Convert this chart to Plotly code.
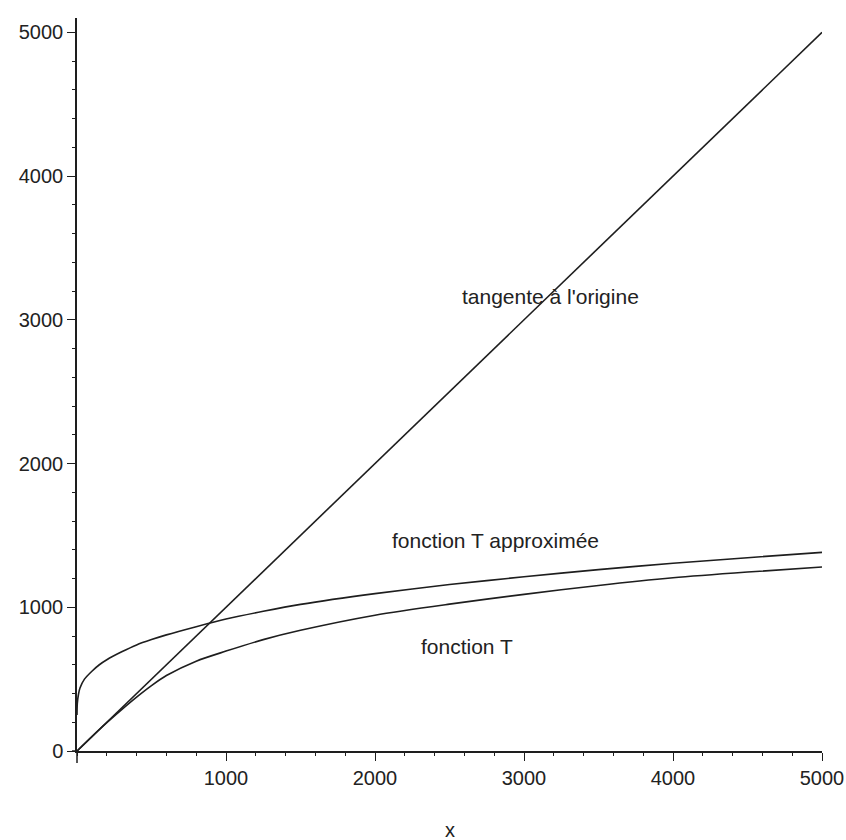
import plotly.graph_objects as go

# --- data ---
x_T = [0, 100, 200, 300, 400, 500, 600, 800, 1000, 1250, 1500, 2000, 2500, 3000, 3500, 4000, 4500, 5000]
y_T = [0, 100, 197, 288, 375, 455, 525, 625, 695, 775, 840, 945, 1022, 1090, 1152, 1205, 1245, 1280]

x_Tapprox = [0, 2, 10, 20, 50, 100, 150, 200, 300, 400, 500, 600, 800, 1000, 1250, 1500, 2000, 2500, 3000, 3500, 4000, 4500, 5000]
y_Tapprox = [250, 330, 395, 438, 500, 555, 600, 635, 690, 738, 775, 808, 865, 918, 972, 1020, 1095, 1158, 1212, 1262, 1306, 1345, 1382]

x_tangent = [0, 5000]
y_tangent = [0, 5000]

x_ticks = [1000, 2000, 3000, 4000, 5000]
y_ticks = [0, 1000, 2000, 3000, 4000, 5000]

labels = [
    ("tangente à l'origine", 3181, 3161),
    ("fonction T approximée", 2812, 1462),
    ("fonction T", 2617, 724),
]

line_style = dict(color="#1e1e1e", width=1.6)
font = "Liberation Sans, Arial, sans-serif"
fsize = 20

fig = go.Figure()
fig.add_trace(go.Scatter(x=x_tangent, y=y_tangent, mode="lines", line=line_style, showlegend=False))
fig.add_trace(go.Scatter(x=x_Tapprox, y=y_Tapprox, mode="lines",
                         line=dict(line_style, shape="spline", smoothing=0.8), showlegend=False))
fig.add_trace(go.Scatter(x=x_T, y=y_T, mode="lines",
                         line=dict(line_style, shape="spline", smoothing=0.8), showlegend=False))

for text, lx, ly in labels:
    fig.add_annotation(x=lx, y=ly, text=text, showarrow=False,
                       font=dict(family=font, size=fsize + 1, color="#222"))

# axis title "x" below the horizontal axis
fig.add_annotation(x=0.5, y=-0.108, xref="paper", yref="paper", text="x", showarrow=False,
                   yanchor="middle", font=dict(family=font, size=fsize, color="#222"))

axis_common = dict(
    showgrid=False, zeroline=False, showline=True, linecolor="#1e1e1e", linewidth=1.5,
    ticks="outside", ticklen=8, tickwidth=1.3, tickcolor="#1e1e1e",
    tickfont=dict(family=font, size=fsize, color="#222"), automargin=False,
)

fig.update_xaxes(range=[0, 5000], tickvals=x_ticks, ticktext=[str(v) for v in x_ticks],
                 minor=dict(dtick=200, ticks="outside", ticklen=3, tickcolor="#1e1e1e"),
                 **axis_common)
fig.update_yaxes(range=[0, 5100], tickvals=y_ticks, ticktext=[str(v) for v in y_ticks],
                 minor=dict(dtick=200, ticks="outside", ticklen=3, tickcolor="#1e1e1e"),
                 **axis_common)

# small axis extensions past the origin
fig.add_shape(type="line", xref="paper", yref="paper", x0=-0.0067, x1=0, y0=0, y1=0,
              line=dict(color="#1e1e1e", width=1.5))
fig.add_shape(type="line", xref="paper", yref="paper", x0=0, x1=0, y0=-0.0164, y1=0,
              line=dict(color="#1e1e1e", width=1.5))

fig.update_layout(
    width=846, height=840,
    margin=dict(l=77, r=24, t=18, b=89),
    paper_bgcolor="white", plot_bgcolor="white",
)

# remove the default page margin so the figure fills the window exactly
fig.write_html("out.html",
               config={"displayModeBar": False},
               post_script="document.body.style.margin='0';document.body.style.overflow='hidden';")
